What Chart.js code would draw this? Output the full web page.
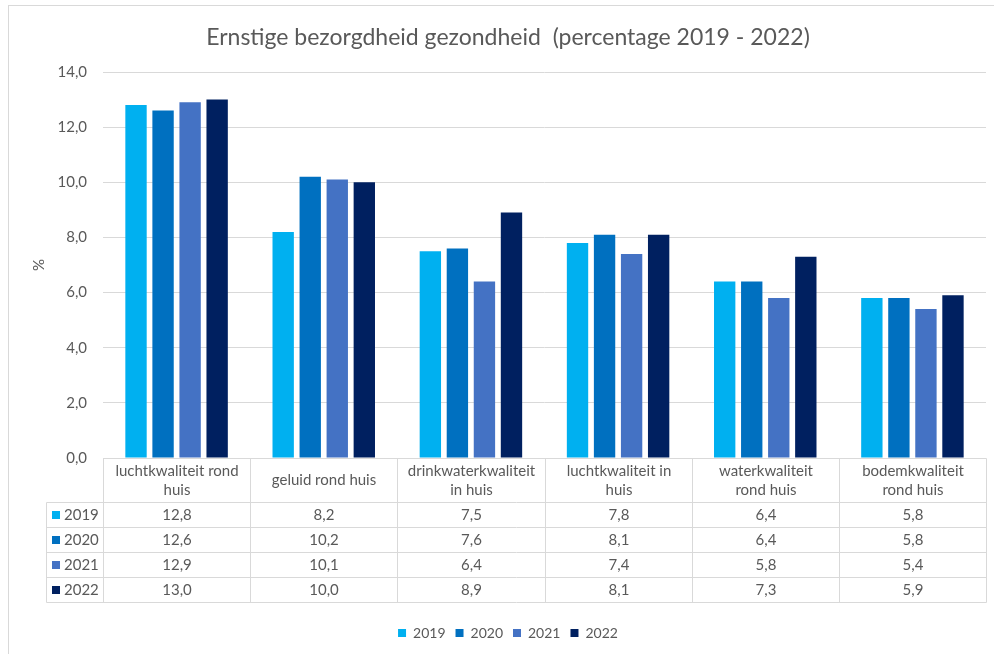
<!DOCTYPE html>
<html>
<head>
<meta charset="utf-8">
<script src="https://cdn.jsdelivr.net/npm/chart.js@4.4.1/dist/chart.umd.min.js"></script>
<style>
    html, body { margin: 0; padding: 0; background: #fff; }
    #wrap { position: relative; width: 994px; height: 654px; }
</style>
</head>
<body>
<div id="wrap"><canvas id="chart"></canvas></div>
<script>
// categorieen (regels zoals in de tabelkop)
const categories = [
    ['luchtkwaliteit rond', 'huis'],
    ['geluid rond huis'],
    ['drinkwaterkwaliteit', 'in huis'],
    ['luchtkwaliteit in', 'huis'],
    ['waterkwaliteit', 'rond huis'],
    ['bodemkwaliteit', 'rond huis'],
];
const years = ['2019', '2020', '2021', '2022'];
const values2019 = [12.8, 8.2, 7.5, 7.8, 6.4, 5.8];
const values2020 = [12.6, 10.2, 7.6, 8.1, 6.4, 5.8];
const values2021 = [12.9, 10.1, 6.4, 7.4, 5.8, 5.4];
const values2022 = [13.0, 10.0, 8.9, 8.1, 7.3, 5.9];
const yMin = 0;
const yMax = 14;
const yStep = 2;

const series = [values2019, values2020, values2021, values2022];
const colors = ['#00B0F0', '#0070C0', '#4472C4', '#002060'];
const FONT = 'Lato, "Open Sans", sans-serif';
const TXT = '#595959';
const LINE = '#D9D9D9';

const fmt = (v) => v.toFixed(1).replace('.', ',');

// kader rond de grafiek
const frame = {
    id: 'frame',
    beforeDraw(chart) {
        const { ctx } = chart;
        ctx.save();
        ctx.strokeStyle = LINE;
        ctx.lineWidth = 1;
        ctx.strokeRect(8.5, 5.5, 1000, 700);
        ctx.restore();
    }
};

// datatabel onder de grafiek
const dataTable = {
    id: 'dataTable',
    afterDraw(chart) {
        const { ctx, chartArea, scales: { x } } = chart;
        const top = Math.round(chartArea.bottom) + 0.5;
        const headH = 44;
        const rowH = 25;
        const rowLeft = 46.5;
        const n = categories.length;
        const edges = [];
        for (let i = 0; i <= n; i++) {
            let px;
            if (i === 0) px = chartArea.left;
            else if (i === n) px = chartArea.right;
            else px = (x.getPixelForTick(i - 1) + x.getPixelForTick(i)) / 2;
            edges.push(Math.round(px) + 0.5);
        }
        const bottom = top + headH + rowH * years.length;

        ctx.save();
        ctx.strokeStyle = LINE;
        ctx.lineWidth = 1;
        ctx.beginPath();
        // bovenlijn kop
        ctx.moveTo(edges[0], top);
        ctx.lineTo(edges[n], top);
        // rijlijnen
        for (let r = 0; r <= years.length; r++) {
            const y = top + headH + r * rowH;
            ctx.moveTo(rowLeft, y);
            ctx.lineTo(edges[n], y);
        }
        // kolomlijnen
        edges.forEach((e) => {
            ctx.moveTo(e, top);
            ctx.lineTo(e, bottom);
        });
        ctx.moveTo(rowLeft, top + headH);
        ctx.lineTo(rowLeft, bottom);
        ctx.stroke();

        ctx.font = '15px ' + FONT;
        ctx.fillStyle = TXT;
        ctx.textAlign = 'center';
        ctx.textBaseline = 'middle';

        // kopteksten
        categories.forEach((lines, i) => {
            const cx = (edges[i] + edges[i + 1]) / 2;
            const lh = 19;
            const y0 = top + headH / 2 - (lines.length - 1) * lh / 2;
            lines.forEach((t, k) => ctx.fillText(t, cx, y0 + k * lh));
        });

        // waarden
        series.forEach((vals, r) => {
            const cy = top + headH + r * rowH + rowH / 2;
            ctx.fillStyle = colors[r];
            ctx.fillRect(52, Math.round(cy - 4), 8, 8);
            ctx.fillStyle = TXT;
            ctx.textAlign = 'left';
            ctx.fillText(years[r], 64, cy);
            ctx.textAlign = 'center';
            vals.forEach((v, i) => {
                const cx = (edges[i] + edges[i + 1]) / 2;
                ctx.fillText(fmt(v), cx, cy);
            });
        });
        ctx.restore();
    }
};

const datasets = years.map((yr, i) => ({
    label: yr,
    data: series[i],
    backgroundColor: colors[i],
    borderWidth: 0,
    categoryPercentage: 0.735,
    barPercentage: 0.79,
}));

new Chart(document.getElementById('chart'), {
    type: 'bar',
    data: {
        labels: categories.map((c) => c.join(' ')),
        datasets: datasets,
    },
    options: {
        responsive: true,
        maintainAspectRatio: false,
        animation: false,
        layout: {
            padding: { left: 30, right: 8, top: 12, bottom: 4 }
        },
        plugins: {
            title: {
                display: true,
                text: 'Ernstige bezorgdheid gezondheid  (percentage 2019 - 2022)',
                color: TXT,
                font: { family: FONT, size: 23, weight: 'normal' },
                padding: { top: 12.2, bottom: 20.2 },
            },
            legend: {
                position: 'bottom',
                labels: {
                    color: TXT,
                    font: { family: FONT, size: 14 },
                    boxWidth: 8,
                    boxHeight: 8,
                    padding: 10,
                }
            },
            tooltip: { enabled: false },
        },
        scales: {
            x: {
                grid: { display: false },
                border: { display: false },
                ticks: { display: false },
                afterFit(scale) {
                    scale.height = 158;
                },
            },
            y: {
                min: yMin,
                max: yMax,
                ticks: {
                    stepSize: yStep,
                    color: TXT,
                    padding: 16,
                    font: { family: FONT, size: 15 },
                    callback: (v) => fmt(v),
                },
                grid: { color: LINE, drawTicks: false },
                border: { display: false },
                title: {
                    display: true,
                    text: '%',
                    color: TXT,
                    font: { family: FONT, size: 15 },
                    padding: 0,
                },
                afterFit(scale) {
                    scale.width = 73;
                },
            }
        }
    },
    plugins: [frame, dataTable],
});
</script>
</body>
</html>
